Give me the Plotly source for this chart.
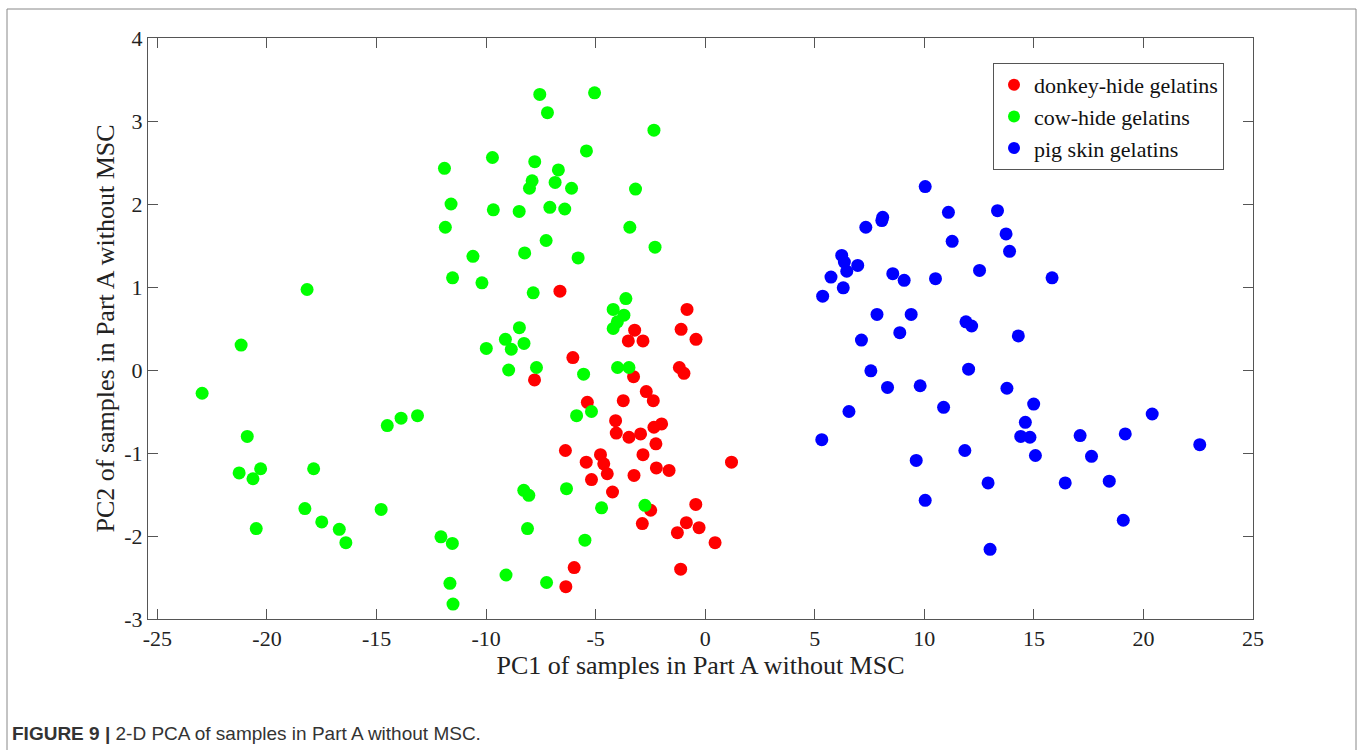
import plotly.graph_objects as go

# ---- data ----
donkey_x = [-6.63, -7.79, -6.04, -3.22, -3.51, -2.84, -0.83, -1.10, -0.42, -1.18,
            -0.97, -3.27, -2.69, -2.37, -3.74, -5.38, -4.09, -4.06, -3.48, -2.95,
            -2.34, -1.99, -2.25, -2.84, -6.38, -4.78, -5.43, -4.63, -4.47, -5.19,
            -3.25, -2.23, -1.65, 1.20, -4.23, -2.49, -0.43, -2.87, -0.86, -1.27,
            -0.28, 0.45, -1.12, -5.98, -6.36]
donkey_y = [0.95, -0.12, 0.15, 0.48, 0.35, 0.35, 0.73, 0.49, 0.37, 0.03,
            -0.04, -0.08, -0.26, -0.37, -0.37, -0.39, -0.61, -0.76, -0.81, -0.77,
            -0.69, -0.65, -0.89, -1.02, -0.97, -1.02, -1.11, -1.13, -1.25, -1.32,
            -1.27, -1.18, -1.21, -1.11, -1.47, -1.69, -1.62, -1.85, -1.84, -1.96,
            -1.90, -2.08, -2.40, -2.38, -2.61]

cow_x = [-18.17, -21.18, -22.96, -10.60, -11.53, -10.19, -9.99, -20.90, -21.27, -20.29,
         -20.64, -20.49, -17.87, -18.27, -17.50, -16.70, -16.40, -14.79, -14.51, -13.88,
         -13.13, -12.06, -11.54, -11.65, -11.51,
         -7.55, -5.05, -7.20, -2.34, -5.42, -9.71, -11.90, -7.78, -6.70, -7.90,
         -6.85, -8.02, -6.10, -3.18, -11.60, -9.67, -8.49, -7.09, -6.41, -11.86,
         -3.44, -7.26, -8.24, -5.80, -2.29, -7.85, -3.62, -4.20, -3.71, -4.01,
         -4.20, -8.48, -9.12, -8.27, -8.85, -8.97, -7.70, -5.55, -4.00, -3.48,
         -5.87, -5.19, -8.28, -8.05, -6.33, -4.73, -2.75, -8.11, -5.49, -9.09, -7.24]
cow_y = [0.97, 0.30, -0.28, 1.37, 1.11, 1.05, 0.26, -0.80, -1.24, -1.19,
         -1.31, -1.91, -1.19, -1.67, -1.83, -1.92, -2.08, -1.68, -0.67, -0.58,
         -0.55, -2.01, -2.09, -2.57, -2.82,
         3.32, 3.34, 3.10, 2.89, 2.64, 2.56, 2.43, 2.51, 2.41, 2.28,
         2.26, 2.19, 2.19, 2.18, 2.00, 1.93, 1.91, 1.96, 1.94, 1.72,
         1.72, 1.56, 1.41, 1.35, 1.48, 0.93, 0.86, 0.73, 0.66, 0.58,
         0.50, 0.51, 0.37, 0.32, 0.25, 0.00, 0.03, -0.05, 0.03, 0.03,
         -0.55, -0.50, -1.45, -1.51, -1.43, -1.66, -1.63, -1.91, -2.05, -2.47, -2.56]

pig_x = [10.04, 11.10, 13.34, 8.10, 8.06, 7.33, 13.73, 11.27, 13.89, 6.23,
         6.35, 6.96, 6.46, 5.74, 6.30, 5.36, 8.56, 9.08, 10.51, 12.52,
         15.83, 7.84, 9.40, 8.88, 7.13, 11.90, 12.16, 14.29, 7.56, 8.32,
         9.81, 12.02, 13.77, 6.56, 10.88, 14.99, 14.61, 14.40, 14.82, 15.07,
         5.32, 11.85, 9.63, 17.11, 17.63, 12.91, 16.43, 10.04, 13.00, 20.40,
         19.17, 22.57, 18.44, 19.08]
pig_y = [2.21, 1.90, 1.92, 1.84, 1.80, 1.72, 1.64, 1.55, 1.43, 1.38,
         1.30, 1.26, 1.19, 1.12, 0.99, 0.89, 1.16, 1.08, 1.10, 1.20,
         1.11, 0.67, 0.67, 0.45, 0.36, 0.58, 0.53, 0.41, -0.01, -0.21,
         -0.19, 0.01, -0.22, -0.50, -0.45, -0.41, -0.63, -0.80, -0.81, -1.03,
         -0.84, -0.97, -1.09, -0.79, -1.04, -1.36, -1.36, -1.57, -2.16, -0.53,
         -0.77, -0.90, -1.34, -1.81]

names = ["donkey-hide gelatins", "cow-hide gelatins", "pig skin gelatins"]
colors = ["#ff0000", "#00ff00", "#0000ff"]
x_ticks = [-25, -20, -15, -10, -5, 0, 5, 10, 15, 20, 25]
y_ticks = [-3, -2, -1, 0, 1, 2, 3, 4]

SERIF = "Liberation Serif, Times New Roman, serif"
SANS = "Liberation Sans, Arial, sans-serif"

fig = go.Figure()
for xs, ys, nm, col in [(donkey_x, donkey_y, names[0], colors[0]),
                        (cow_x, cow_y, names[1], colors[1]),
                        (pig_x, pig_y, names[2], colors[2])]:
    fig.add_trace(go.Scatter(x=xs, y=ys, mode="markers", name=nm,
                             marker=dict(color=col, size=13, line=dict(width=0))))

W, H = 1358, 750
L, R, T, B = 148, 105, 38, 131
pw, ph = W - L - R, H - T - B

def px(xp):
    return (xp - L) / pw

def py(yp):
    return (H - B - yp) / ph

axis_common = dict(showline=True, linecolor="#555555", linewidth=1, mirror="ticks",
                   ticks="inside", ticklen=10, tickcolor="#555555", tickwidth=1,
                   showgrid=False, zeroline=False,
                   tickfont=dict(family=SERIF, size=22, color="#222222"))

fig.update_layout(
    width=W, height=H,
    margin=dict(l=L, r=R, t=T, b=B),
    paper_bgcolor="white", plot_bgcolor="white",
    xaxis=dict(range=[-25.43, 25], tickvals=x_ticks, ticktext=[str(v) for v in x_ticks],
               title=dict(text="PC1 of samples in Part A without MSC",
                          font=dict(family=SERIF, size=26, color="#222222"), standoff=4),
               **axis_common),
    yaxis=dict(range=[-3, 4], tickvals=y_ticks, ticktext=[str(v) for v in y_ticks],
               title=dict(text="PC2 of samples in Part A without MSC",
                          font=dict(family=SERIF, size=26, color="#222222"), standoff=2),
               **axis_common),
    legend=dict(x=px(993), y=py(63), xanchor="left", yanchor="top",
                bgcolor="white", bordercolor="#555555", borderwidth=1,
                font=dict(family=SERIF, size=22, color="#111111"),
                tracegroupgap=0, itemsizing="constant"),
    showlegend=True,
)

# outer figure frame (top, left, right)
for x0, y0, x1, y1 in [(7, 9, 1356, 9), (7, 9, 7, 760), (1356, 9, 1356, 760)]:
    fig.add_shape(type="line", xref="paper", yref="paper",
                  x0=px(x0), y0=py(y0), x1=px(x1), y1=py(y1),
                  line=dict(color="#888888", width=1))

fig.add_annotation(xref="paper", yref="paper", x=px(10), y=py(733),
                   xanchor="left", yanchor="middle", showarrow=False,
                   text="<b>FIGURE 9 |</b> 2-D PCA of samples in Part A without MSC.",
                   font=dict(family=SANS, size=19, color="#333333"))

fig.write_html("out.html", config={"displayModeBar": False},
               post_script="document.body.style.margin='0';")
